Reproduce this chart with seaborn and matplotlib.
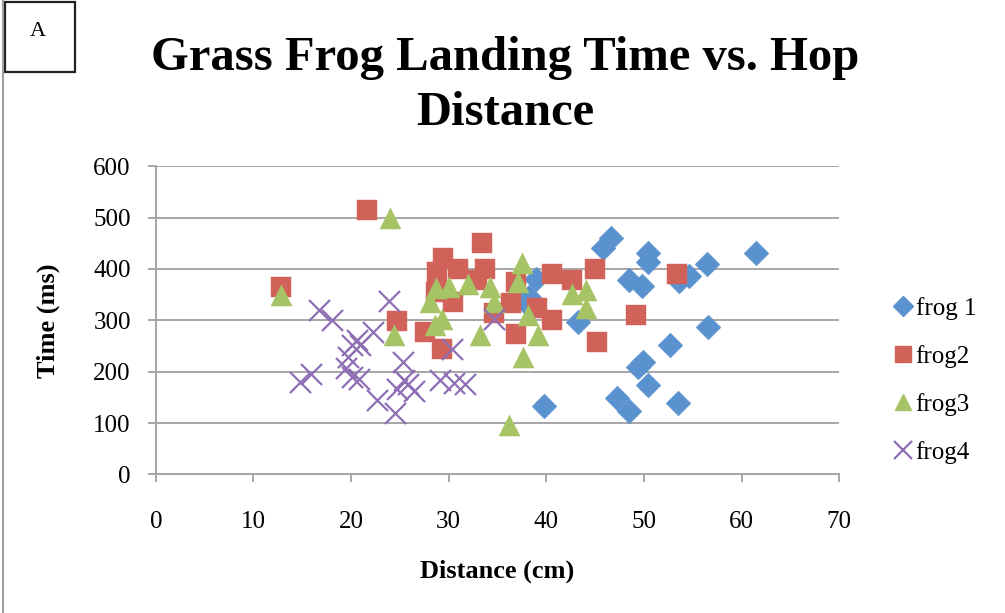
import matplotlib
matplotlib.use("Agg")
import matplotlib.pyplot as plt
from matplotlib.patches import Rectangle
from matplotlib.lines import Line2D
import seaborn as sns
import pandas as pd

# values (distance cm, time ms)
frog1_dist = [61.5, 46.6, 45.8, 50.4, 50.4, 56.5, 48.5, 49.8, 54.6, 53.6, 43.2, 56.6,
              52.7, 49.4, 49.9, 50.4, 47.2, 48.5, 53.5, 39.8, 38.9, 38.2, 37.7]
frog1_time = [431, 461, 440, 430, 413, 410, 378, 367, 386, 376, 296, 287,
              252, 209, 218, 174, 148, 124, 140, 134, 380, 345, 337]

frog2_dist = [12.8, 21.6, 24.7, 27.6, 28.8, 28.7, 29.4, 29.3, 30.4, 31.0, 32.9, 33.4,
              33.7, 34.6, 36.4, 36.9, 36.9, 39.0, 40.6, 40.6, 42.6, 45.0, 45.2, 49.2, 53.4]
frog2_time = [365, 515, 298, 278, 394, 355, 421, 245, 335, 400, 378, 451,
              400, 315, 333, 375, 274, 323, 390, 301, 378, 399, 258, 310, 390]

frog3_dist = [12.8, 24.0, 24.4, 28.1, 28.6, 28.7, 29.3, 30.0, 32.0, 33.2, 34.2,
              34.6, 36.2, 37.1, 37.5, 37.6, 38.1, 39.2, 42.6, 44.1, 44.1]
frog3_time = [350, 500, 271, 335, 290, 362, 302, 365, 371, 271, 365,
              336, 96, 375, 412, 229, 311, 271, 352, 358, 323]

frog4_dist = [14.8, 15.9, 16.7, 18.1, 19.5, 19.7, 20.1, 20.6, 20.9, 20.05, 20.8, 22.3,
              22.7, 23.9, 24.5, 24.7, 25.3, 25.4, 25.85, 26.5, 29.1, 30.3, 30.5, 31.7, 34.6]
frog4_time = [180, 195, 321, 300, 208, 229, 252, 261, 252, 190, 185, 277,
              145, 338, 119, 167, 219, 184, 177, 162, 184, 245, 178, 176, 302]

frog_names = ["frog 1", "frog2", "frog3", "frog4"]
frog_markers = ["D", "s", "^", "x"]
frog_colors = ["#5A92D0", "#D0625A", "#A6C465", "#8E6FB5"]
frog_sizes = [160, 190, 230, 230]

df = pd.concat([
    pd.DataFrame({"distance": d, "time": t, "frog": n})
    for d, t, n in zip([frog1_dist, frog2_dist, frog3_dist, frog4_dist],
                       [frog1_time, frog2_time, frog3_time, frog4_time],
                       frog_names)
], ignore_index=True)

sns.set_style("white")
plt.rcParams["font.family"] = ["Liberation Serif", "DejaVu Serif"]
plt.rcParams["text.color"] = "black"
plt.rcParams["axes.labelcolor"] = "black"
plt.rcParams["xtick.color"] = "black"
plt.rcParams["ytick.color"] = "black"

fig = plt.figure(figsize=(10.05, 6.13), dpi=100)
ax = fig.add_axes([0.155, 0.226, 0.68, 0.503])

grid_col = "#A6A6A6"
for name, m, c, s in zip(frog_names, frog_markers, frog_colors, frog_sizes):
    sub = df[df["frog"] == name]
    if m == "x":
        sns.scatterplot(data=sub, x="distance", y="time", marker=m, color=c, s=s,
                        linewidth=1.6, ax=ax, legend=False, zorder=3)
    else:
        sns.scatterplot(data=sub, x="distance", y="time", marker=m, color=c, s=s,
                        edgecolor=c, linewidth=0.3, ax=ax, legend=False, zorder=3)

ax.set_xlim(0, 70)
ax.set_ylim(0, 600)
ax.set_xticks(range(0, 71, 10))
ax.set_yticks(range(0, 601, 100))
ax.yaxis.grid(True, color=grid_col, linewidth=1.4)
ax.xaxis.grid(False)
ax.set_axisbelow(True)
for side in ["top", "right"]:
    ax.spines[side].set_visible(False)
for side in ["left", "bottom"]:
    ax.spines[side].set_color(grid_col)
    ax.spines[side].set_linewidth(1.4)
ax.tick_params(axis="both", direction="out", length=6, width=1.4, color=grid_col,
               labelsize=18, labelcolor="black", left=True, bottom=True)
ax.tick_params(axis="y", pad=12)
ax.tick_params(axis="x", pad=20)

ax.set_xlabel("Distance (cm)", fontsize=19, fontweight="bold")
ax.set_ylabel("Time (ms)", fontsize=19, fontweight="bold")
ax.xaxis.set_label_coords(0.5, -0.275)
ax.yaxis.set_label_coords(-0.14, 0.5)

fig.text(0.5025, 0.886, "Grass Frog Landing Time vs. Hop", ha="center", va="baseline",
         fontsize=35, fontweight="bold")
fig.text(0.5025, 0.796, "Distance", ha="center", va="baseline",
         fontsize=35, fontweight="bold")

handles = []
for name, m, c in zip(frog_names, frog_markers, frog_colors):
    if m == "x":
        h = Line2D([], [], linestyle="none", marker=m, color=c, markersize=13, markeredgewidth=1.6)
    else:
        h = Line2D([], [], linestyle="none", marker=m, color=c, markersize=12 if m != "D" else 10)
    handles.append(h)
ax.legend(handles, frog_names, loc="center left", bbox_to_anchor=(0.880, 0.38),
          bbox_transform=fig.transFigure, frameon=False, fontsize=18,
          handlelength=0.7, handletextpad=0.15, labelspacing=1.0, borderaxespad=0)

# frame line on the left edge and the small boxed "A"
fig.add_artist(Line2D([0.0025, 0.0025], [0, 1], transform=fig.transFigure,
                      color="#A0A0A0", linewidth=1.5))
fig.add_artist(Rectangle((0.005, 1 - 72 / 613), 70 / 1005, 70 / 613,
                         transform=fig.transFigure, fill=False,
                         edgecolor="#222222", linewidth=1.6))
fig.text(38 / 1005, 1 - 31 / 613, "A", ha="center", va="center", fontsize=16)

fig.savefig("out.png", dpi=100)
